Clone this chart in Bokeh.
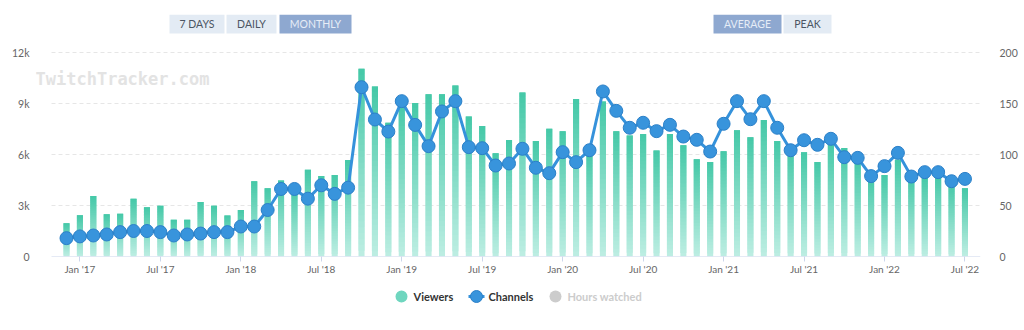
import numpy as np
from bokeh.plotting import figure
from bokeh.layouts import column
from bokeh.core.properties import value
from bokeh.models import (Range1d, LinearAxis, FixedTicker, ColumnDataSource, Label,
                          BoxAnnotation)
from bokeh.embed import file_html
from bokeh.resources import INLINE

# ---------------- data ----------------
months = [
    "2016-12",
    "2017-01", "2017-02", "2017-03", "2017-04", "2017-05", "2017-06",
    "2017-07", "2017-08", "2017-09", "2017-10", "2017-11", "2017-12",
    "2018-01", "2018-02", "2018-03", "2018-04", "2018-05", "2018-06",
    "2018-07", "2018-08", "2018-09", "2018-10", "2018-11", "2018-12",
    "2019-01", "2019-02", "2019-03", "2019-04", "2019-05", "2019-06",
    "2019-07", "2019-08", "2019-09", "2019-10", "2019-11", "2019-12",
    "2020-01", "2020-02", "2020-03", "2020-04", "2020-05", "2020-06",
    "2020-07", "2020-08", "2020-09", "2020-10", "2020-11", "2020-12",
    "2021-01", "2021-02", "2021-03", "2021-04", "2021-05", "2021-06",
    "2021-07", "2021-08", "2021-09", "2021-10", "2021-11", "2021-12",
    "2022-01", "2022-02", "2022-03", "2022-04", "2022-05", "2022-06",
    "2022-07",
]

viewers = [
    1960,
    2420, 3560, 2480, 2520, 3400, 2890,
    2990, 2160, 2160, 3200, 2990, 2410,
    2730, 4430, 4020, 4470, 4000, 5100,
    4740, 4800, 5680, 11040, 10000, 7870,
    9100, 9030, 9550, 9550, 10060, 8240,
    7670, 6080, 6860, 9650, 6800, 7520,
    7370, 9270, 6200, 9120, 7370, 7120,
    7210, 6240, 7210, 6540, 5720, 5560,
    6190, 7420, 7020, 8030, 6800, 6300,
    6130, 5560, 6720, 6380, 5700, 4620,
    4790, 5690, 4670, 4670, 4760, 4320,
    4020,
]

channels = [
    18.0,
    19.7, 20.6, 21.6, 23.9, 25.0, 25.0,
    23.9, 20.6, 21.6, 22.5, 23.9, 23.9,
    29.4, 29.4, 45.6, 66.2, 66.2, 56.7,
    69.8, 61.4, 67.5, 166.0, 134.3, 122.5,
    152.3, 129.0, 108.2, 142.2, 152.3, 107.2,
    106.2, 89.2, 91.2, 105.6, 87.0, 81.7,
    102.3, 92.5, 104.2, 161.8, 142.8, 126.2,
    131.1, 122.9, 129.1, 117.6, 114.4, 102.9,
    130.1, 152.3, 134.6, 152.3, 126.2, 104.2,
    114.0, 109.5, 115.4, 97.4, 96.7, 78.8,
    88.6, 101.6, 78.4, 82.7, 82.7, 73.8,
    76.1,
]

tick_months = ["2017-01", "2017-07", "2018-01", "2018-07", "2019-01", "2019-07",
               "2020-01", "2020-07", "2021-01", "2021-07", "2022-01", "2022-07"]
tick_labels = ["Jan '17", "Jul '17", "Jan '18", "Jul '18", "Jan '19", "Jul '19",
               "Jan '20", "Jul '20", "Jan '21", "Jul '21", "Jan '22", "Jul '22"]

left_ticks = [0, 3000, 6000, 9000, 12000]
left_tick_labels = ["0", "3k", "6k", "9k", "12k"]
right_ticks = [0, 50, 100, 150, 200]

range_buttons = ["7 DAYS", "DAILY", "MONTHLY"]
mode_buttons = ["AVERAGE", "PEAK"]
legend_labels = ["Viewers", "Channels", "Hours watched"]

# ---------------- layout constants (canvas px) ----------------
FONT = "Lato"
W = 1024
MAIN_H = 284
LEG_H = 330 - MAIN_H
FL, FR, FT, FB = 35, 980, 14, 256     # main frame edges
PX_PER_MONTH = 13.41
X0_PX = 66                             # pixel of the first month
GRID_L = 51                            # grid lines start here
ZERO_Y, TOP_Y = 256, 52                # pixel of 0 and of 12k

def px_to_x(px):
    return (px - X0_PX) / PX_PER_MONTH

yscale = 12000 / (ZERO_Y - TOP_Y)
y_end = (ZERO_Y - FT) * yscale
ch_end = y_end * 200 / 12000

p = figure(width=W, height=MAIN_H, output_backend="svg", toolbar_location=None,
           x_range=Range1d(px_to_x(FL), px_to_x(FR)), y_range=Range1d(0, y_end),
           min_border_left=FL, min_border_right=W - FR, min_border_top=FT,
           min_border_bottom=MAIN_H - FB, background_fill_color="white",
           border_fill_color="white")
p.outline_line_color = None
p.extra_y_ranges = {"ch": Range1d(0, ch_end)}

x = np.arange(len(months))

# dashed grid lines (from the tick list)
gx0, gx1 = px_to_x(GRID_L), px_to_x(FR)
p.segment(x0=[gx0] * 4, y0=left_ticks[1:], x1=[gx1] * 4, y1=left_ticks[1:],
          line_color="#e6e6e6", line_dash="4 3", line_width=1)

# gradient bars, drawn as overlapping stacked slices
N = 32
top_c = np.array([68, 200, 167])
bot_c = np.array([190, 238, 227])
segs = {"x": [], "bottom": [], "top": [], "color": []}
for k in range(N):
    t = (k + 0.5) / N
    c = bot_c + (top_c - bot_c) * t
    hexc = "#%02x%02x%02x" % tuple(int(round(v)) for v in c)
    for i, v in enumerate(viewers):
        segs["x"].append(i)
        segs["bottom"].append(v * k / N)
        segs["top"].append(v * min(k + 2, N) / N)
        segs["color"].append(hexc)
p.vbar(x="x", bottom="bottom", top="top", width=0.45, fill_color="color",
       line_color=None, source=ColumnDataSource(segs))

# axis baseline
p.segment(x0=[gx0], y0=[0], x1=[gx1], y1=[0], line_color="#ccd6eb", line_width=1)

LINE_C = "#3592db"
PT_FILL, PT_LINE = "#3894dc", "#2b80c8"
p.line(x, channels, y_range_name="ch", line_width=3, line_color=LINE_C)
p.scatter(x, channels, y_range_name="ch", size=13, marker="circle",
          fill_color=PT_FILL, line_color=PT_LINE, line_width=1)

# axes
p.yaxis.ticker = FixedTicker(ticks=left_ticks)
p.yaxis.major_label_overrides = dict(zip(left_ticks, left_tick_labels))
p.yaxis.axis_line_color = None
p.yaxis.major_tick_line_color = None
p.yaxis.minor_tick_line_color = None
p.yaxis.major_label_standoff = 0
p.yaxis.major_label_text_color = "#666666"
p.yaxis.major_label_text_font = FONT
p.yaxis.major_label_text_font_size = "10.5px"

ax_r = LinearAxis(y_range_name="ch", ticker=FixedTicker(ticks=right_ticks))
ax_r.axis_line_color = None
ax_r.major_tick_line_color = None
ax_r.minor_tick_line_color = None
ax_r.major_label_standoff = 13
ax_r.major_label_text_color = "#666666"
ax_r.major_label_text_font = FONT
ax_r.major_label_text_font_size = "10.5px"
p.add_layout(ax_r, "right")

tick_pos = [months.index(m) for m in tick_months]
p.xaxis.ticker = FixedTicker(ticks=tick_pos)
p.xaxis.major_label_overrides = dict(zip(tick_pos, tick_labels))
p.xaxis.axis_line_color = None
p.xaxis.major_tick_line_color = "#ccd6eb"
p.xaxis.major_tick_out = 5
p.xaxis.major_tick_in = 0
p.xaxis.minor_tick_line_color = None
p.xaxis.major_label_standoff = 1
p.xaxis.major_label_text_color = "#666666"
p.xaxis.major_label_text_font = FONT
p.xaxis.major_label_text_font_size = "10px"

p.xgrid.grid_line_color = None
p.ygrid.grid_line_color = None

# watermark
p.add_layout(Label(x=35 - FL, y=FB - 78, x_units="screen", y_units="screen",
                   text="TwitchTracker.com", text_font="DejaVu Sans Mono",
                   text_font_style="bold", text_font_size="17px",
                   text_color="#e3e3e3", text_baseline="alphabetic"))

# buttons
def button(x0, x1, y0, y1, label, active):
    bg = "#8ea8d0" if active else "#e3ebf4"
    fg = "#e6edf7" if active else "#4b5563"
    p.add_layout(BoxAnnotation(left=x0 - FL, right=x1 - FL, top=FB - y0, bottom=FB - y1,
                               left_units="screen", right_units="screen",
                               top_units="screen", bottom_units="screen",
                               fill_color=bg, fill_alpha=1, line_color=None))
    p.add_layout(Label(x=(x0 + x1) / 2 - FL, y=FB - (y0 + y1) / 2,
                       x_units="screen", y_units="screen", text=label,
                       text_align="center", text_baseline="middle",
                       text_font=FONT, text_font_size="10.5px", text_color=fg))

btn_x = [(169, 224), (226, 276), (279, 351)]
for (a, b), lab in zip(btn_x, range_buttons):
    button(a, b, 14, 33, lab, lab == "MONTHLY")
btn_x2 = [(713, 781), (783, 831)]
for (a, b), lab in zip(btn_x2, mode_buttons):
    button(a, b, 14, 33, lab, lab == "AVERAGE")

# ---------------- legend strip (x and y in canvas px) ----------------
q = figure(width=W, height=LEG_H, output_backend="svg", toolbar_location=None,
           x_range=Range1d(FL, FR), y_range=Range1d(LEG_H, 0),
           min_border_left=FL, min_border_right=W - FR, min_border_top=0,
           min_border_bottom=0, x_axis_location=None, y_axis_location=None,
           background_fill_color="white", border_fill_color="white")
q.outline_line_color = None
q.xgrid.grid_line_color = None
q.ygrid.grid_line_color = None

LY = 296 - MAIN_H
icon_x = [401, 476, 555]
text_x = [413, 488, 567]
icon_fill = ["#6fd6bf", PT_FILL, "#cccccc"]
icon_line = [None, PT_LINE, None]
text_col = ["#333333", "#333333", "#cccccc"]

q.segment(x0=[icon_x[1] - 8], y0=[LY], x1=[icon_x[1] + 8], y1=[LY],
          line_color=LINE_C, line_width=3)
for i in range(3):
    q.scatter([icon_x[i]], [LY], size=12, marker="circle", fill_color=icon_fill[i],
              line_color=icon_line[i], line_width=1)
q.text(x=text_x, y=[LY] * 3, text=legend_labels, text_align="left",
       text_baseline="middle", text_font=value(FONT), text_font_style="bold",
       text_font_size="11px", text_color=text_col)

layout = column(p, q, spacing=0)
open("out.html", "w").write(file_html(layout, INLINE))
